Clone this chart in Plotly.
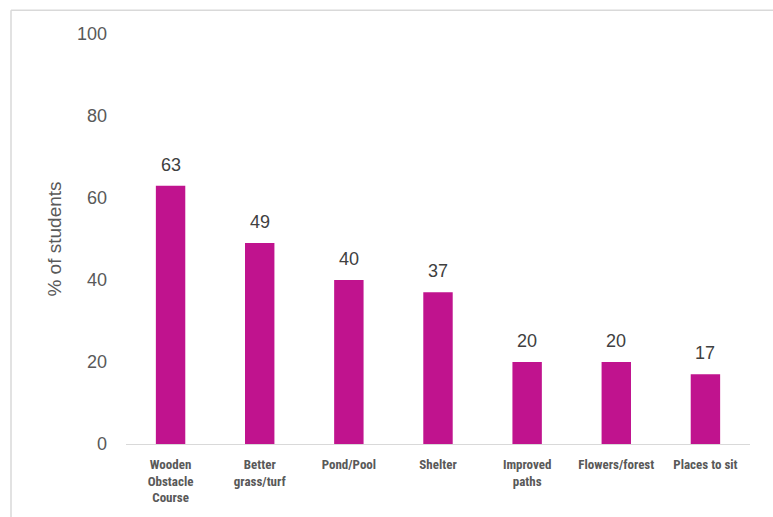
import plotly.graph_objects as go

categories = ["Wooden<br>Obstacle<br>Course", "Better<br>grass/turf", "Pond/Pool", "Shelter",
              "Improved<br>paths", "Flowers/forest", "Places to sit"]
values = [63, 49, 40, 37, 20, 20, 17]
y_ticks = [0, 20, 40, 60, 80, 100]

bar_color = "#C0138E"

fig = go.Figure(go.Bar(
    x=categories, y=values,
    marker=dict(color=bar_color, line=dict(width=0)),
    cliponaxis=False,
))

for c, v in zip(categories, values):
    fig.add_annotation(x=c, y=v, text=str(v), showarrow=False, yanchor="bottom", yshift=9,
                       font=dict(family="Liberation Sans, Arial", size=18, color="#404040"))

fig.update_layout(
    width=773, height=517,
    margin=dict(l=126, r=23, t=34, b=71),
    paper_bgcolor="white", plot_bgcolor="white",
    bargap=0.67,
    showlegend=False,
    xaxis=dict(
        showline=True, linecolor="#D9D9D9", linewidth=1,
        ticks="", showgrid=False, ticklabelstandoff=8,
        tickfont=dict(family="Liberation Sans Narrow, Roboto Condensed, Arial Narrow", size=13,
                      color="#595959", weight="bold"),
        tickangle=0,
    ),
    yaxis=dict(
        range=[0, 100], tickvals=y_ticks, showgrid=False, zeroline=False, showline=False,
        ticks="", ticklabelstandoff=18,
        tickfont=dict(family="Liberation Sans, Arial", size=18, color="#595959"),
        title=dict(text="% of students", standoff=10,
                   font=dict(family="Liberation Sans, Arial", size=19, color="#595959")),
    ),
    shapes=[
        dict(type="line", xref="paper", yref="paper", x0=-0.1843, x1=1.04, y0=1.058, y1=1.058,
             line=dict(color="#D9D9D9", width=1.5)),
        dict(type="line", xref="paper", yref="paper", x0=-0.1843, x1=-0.1843, y0=-0.18, y1=1.058,
             line=dict(color="#D9D9D9", width=1.5)),
    ],
)

fig.write_html("out.html")
